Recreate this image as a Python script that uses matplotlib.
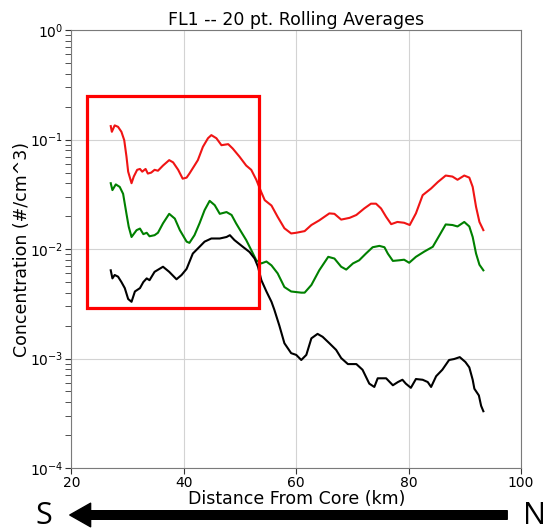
import matplotlib
matplotlib.use("Agg")
import matplotlib.pyplot as plt
from matplotlib.patches import Rectangle, FancyArrowPatch

# Rolling-average concentrations along the transect (km, #/cm^3)
red_x = [27.0, 27.2, 27.7, 28.3, 28.9, 29.4, 29.8, 30.1, 30.7, 31.1, 31.7, 32.2, 32.6,
         33.2, 33.6, 34.2, 34.8, 35.4, 36.3, 37.4, 38.1, 39.0, 39.8, 40.5, 41.0, 41.9,
         42.5, 43.4, 44.3, 44.9, 45.8, 46.7, 47.9, 48.7, 49.9, 51.1, 52.0, 52.9, 53.8,
         54.4, 55.6, 56.7, 57.9, 59.1, 60.0, 61.5, 62.7, 64.1, 65.9, 66.8, 68.0, 69.5,
         70.7, 72.1, 73.3, 74.2, 75.1, 76.0, 76.9, 78.0, 79.2, 80.2, 81.3, 82.5, 84.0,
         85.2, 86.6, 87.8, 88.7, 89.9, 90.8, 91.4, 92.0, 92.6, 93.3]
red_y = [0.133, 0.118, 0.135, 0.131, 0.118, 0.099, 0.070, 0.051, 0.040, 0.046, 0.053,
         0.054, 0.051, 0.054, 0.049, 0.050, 0.053, 0.052, 0.058, 0.065, 0.062, 0.053,
         0.044, 0.045, 0.049, 0.058, 0.065, 0.086, 0.103, 0.110, 0.103, 0.089, 0.091,
         0.083, 0.070, 0.058, 0.053, 0.043, 0.033, 0.028, 0.025, 0.0197, 0.0155, 0.0139,
         0.0141, 0.0146, 0.0166, 0.0183, 0.0212, 0.021, 0.0186, 0.0193, 0.0205, 0.0235,
         0.026, 0.026, 0.0235, 0.0197, 0.0169, 0.0177, 0.0174, 0.0166, 0.0212, 0.0311,
         0.0358, 0.041, 0.047, 0.046, 0.043, 0.047, 0.045, 0.037, 0.0243, 0.0177, 0.0149]

green_x = [27.0, 27.3, 27.9, 28.6, 29.2, 29.8, 30.2, 30.7, 31.6, 32.2, 32.8, 33.4, 33.9,
           34.8, 35.4, 36.3, 37.4, 38.4, 39.3, 40.5, 41.0, 41.9, 42.8, 43.7, 44.6, 45.5,
           46.4, 47.6, 48.5, 49.3, 50.2, 51.1, 52.0, 52.9, 53.8, 54.7, 55.6, 56.7, 57.9,
           59.1, 60.9, 61.5, 62.7, 64.1, 65.7, 66.8, 68.0, 68.9, 70.1, 71.2, 72.4, 73.6,
           74.8, 75.7, 76.3, 77.2, 78.3, 79.2, 80.1, 81.3, 82.8, 84.3, 85.5, 86.6, 87.8,
           88.7, 89.9, 90.8, 91.4, 92.0, 92.6, 93.3]
green_y = [0.040, 0.0346, 0.039, 0.037, 0.032, 0.021, 0.016, 0.0129, 0.0149, 0.0154,
           0.0137, 0.0141, 0.0131, 0.0134, 0.0141, 0.0172, 0.021, 0.019, 0.0149, 0.0117,
           0.0114, 0.0134, 0.0172, 0.0227, 0.0276, 0.0252, 0.021, 0.0218, 0.0205, 0.0172,
           0.0144, 0.0121, 0.0098, 0.0079, 0.0074, 0.0077, 0.0071, 0.0060, 0.0045, 0.0041,
           0.0040, 0.0040, 0.0047, 0.0064, 0.0085, 0.0082, 0.0069, 0.0065, 0.0074, 0.0079,
           0.0091, 0.0104, 0.0107, 0.0104, 0.0091, 0.0078, 0.0079, 0.0080, 0.0075, 0.0085,
           0.0095, 0.0105, 0.0134, 0.0168, 0.0166, 0.0161, 0.0177, 0.0161, 0.0129, 0.0091,
           0.0072, 0.0064]

black_x = [27.0, 27.3, 27.7, 28.3, 28.9, 29.5, 30.1, 30.7, 31.3, 32.2, 32.8, 33.4, 33.9,
           34.8, 36.3, 37.4, 38.7, 39.6, 40.5, 41.6, 42.8, 43.7, 44.9, 46.4, 47.6, 48.2,
           49.0, 50.5, 51.7, 52.6, 53.2, 53.8, 54.7, 55.6, 56.1, 57.0, 57.9, 59.1, 60.0,
           60.9, 61.8, 62.7, 63.8, 64.7, 65.9, 67.1, 68.0, 69.2, 70.7, 71.8, 73.0, 73.9,
           74.5, 76.0, 77.2, 78.1, 78.9, 79.5, 80.4, 81.3, 82.5, 83.4, 84.0, 84.9, 86.0,
           87.2, 88.1, 89.1, 90.1, 90.8, 91.4, 91.7, 92.5, 92.9, 93.3]
black_y = [0.0064, 0.0054, 0.0058, 0.0056, 0.0050, 0.0044, 0.0035, 0.0033, 0.0041,
           0.0044, 0.0050, 0.0054, 0.0052, 0.0062, 0.0069, 0.0062, 0.0053, 0.0058, 0.0066,
           0.0091, 0.0105, 0.0117, 0.0125, 0.0125, 0.0129, 0.0134, 0.0121, 0.0105, 0.0094,
           0.0082, 0.0069, 0.0052, 0.0041, 0.0033, 0.0028, 0.0020, 0.00138, 0.00112,
           0.00108, 0.00097, 0.00108, 0.00153, 0.00168, 0.00158, 0.00138, 0.00120, 0.00101,
           0.00089, 0.00089, 0.00079, 0.00059, 0.00055, 0.00066, 0.00066, 0.00057, 0.00061,
           0.00064, 0.00059, 0.00054, 0.00065, 0.00064, 0.00061, 0.00055, 0.00069, 0.00079,
           0.00097, 0.00099, 0.00103, 0.00093, 0.00083, 0.00064, 0.00053, 0.00046, 0.00037,
           0.00033]

# Highlighted region (km, #/cm^3)
box_x = [22.8, 53.3]
box_y = [0.0029, 0.25]

fig = plt.figure(figsize=(5.45, 5.30), dpi=100)
ax = fig.add_axes([0.131, 0.117, 0.825, 0.826])

ax.plot(red_x, red_y, color="#f01414", lw=1.5)
ax.plot(green_x, green_y, color="green", lw=1.5)
ax.plot(black_x, black_y, color="black", lw=1.5)

ax.add_patch(Rectangle((box_x[0], box_y[0]), box_x[1] - box_x[0], box_y[1] - box_y[0],
                       fill=False, edgecolor="red", lw=2.3, zorder=4))

ax.set_yscale("log")
ax.set_xlim(20, 100)
ax.set_ylim(1e-4, 1e0)
ax.set_xticks([20, 40, 60, 80, 100])
ax.grid(True, which="major", color="#d3d3d3", lw=0.8)
ax.set_axisbelow(True)
for s in ax.spines.values():
    s.set_color("#7a7a7a")
ax.tick_params(axis="both", which="major", labelsize=10, length=4, color="#333333", pad=2)
ax.tick_params(axis="y", which="minor", length=4, color="#333333")

ax.set_title("FL1 -- 20 pt. Rolling Averages", fontsize=12.5, pad=4)
ax.set_xlabel("Distance From Core (km)", fontsize=12.5, labelpad=0)
ax.set_ylabel("Concentration (#/cm^3)", fontsize=12.5, labelpad=-1)

# Direction arrow below the axis
arrow = FancyArrowPatch((510 / 545, 1 - 515 / 530), (67 / 545, 1 - 515 / 530),
                        transform=fig.transFigure,
                        arrowstyle="simple,head_length=1.5,head_width=1.7,tail_width=0.62",
                        mutation_scale=10, color="black")
fig.add_artist(arrow)
fig.text(44 / 545, 1 - 516 / 530, "S", fontsize=22, family="Open Sans",
         ha="center", va="center")
fig.text(535 / 545, 1 - 516 / 530, "N", fontsize=22, family="Open Sans",
         ha="center", va="center")

fig.savefig("out.png", dpi=100)
